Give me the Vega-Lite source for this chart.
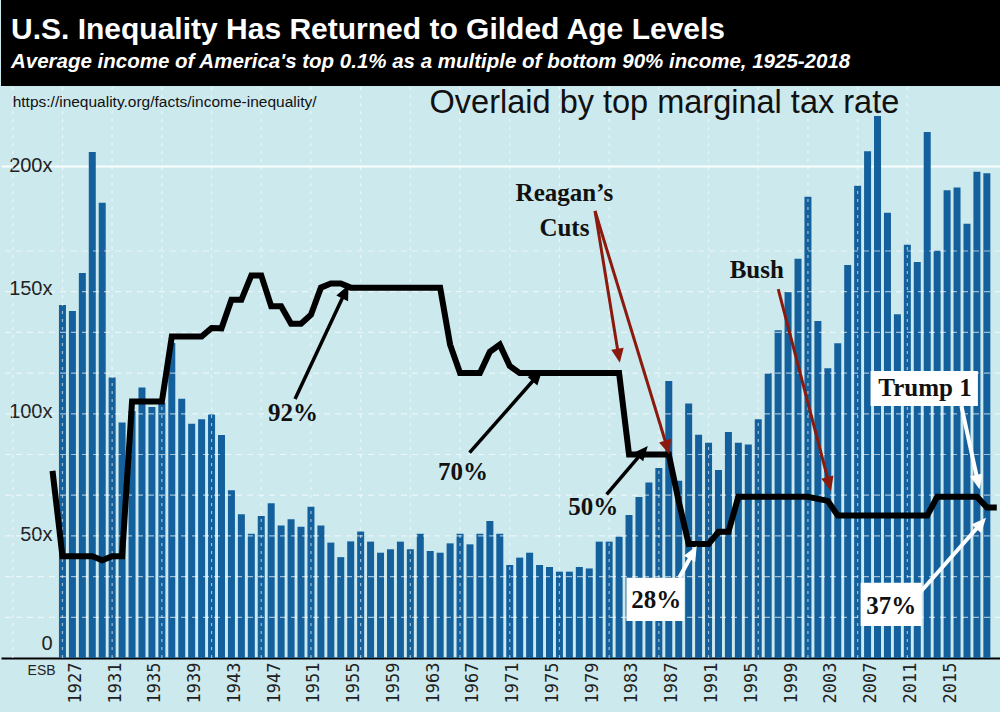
{
  "$schema": "https://vega.github.io/schema/vega-lite/v6.json",
  "padding": {"left": 0, "top": 0, "right": 0, "bottom": 10},
  "background": "#cce9ee",
  "spacing": 0,
  "config": {"view": {"stroke": null}, "concat": {"spacing": 0}},
  "datasets": {
    "income": [
      {"year": 1925, "multiple": 143.5}, {"year": 1926, "multiple": 141}, {"year": 1927, "multiple": 156.5}, {"year": 1928, "multiple": 205.7},
      {"year": 1929, "multiple": 185}, {"year": 1930, "multiple": 114}, {"year": 1931, "multiple": 95.7}, {"year": 1932, "multiple": 100.4},
      {"year": 1933, "multiple": 110}, {"year": 1934, "multiple": 102}, {"year": 1935, "multiple": 103.8}, {"year": 1936, "multiple": 128},
      {"year": 1937, "multiple": 105.4}, {"year": 1938, "multiple": 95.2}, {"year": 1939, "multiple": 97}, {"year": 1940, "multiple": 99},
      {"year": 1941, "multiple": 90.6}, {"year": 1942, "multiple": 68.2}, {"year": 1943, "multiple": 58.4}, {"year": 1944, "multiple": 50.5},
      {"year": 1945, "multiple": 57.7}, {"year": 1946, "multiple": 62.9}, {"year": 1947, "multiple": 53.9}, {"year": 1948, "multiple": 56.4},
      {"year": 1949, "multiple": 53.3}, {"year": 1950, "multiple": 61.5}, {"year": 1951, "multiple": 53.9}, {"year": 1952, "multiple": 46.9},
      {"year": 1953, "multiple": 41}, {"year": 1954, "multiple": 47.4}, {"year": 1955, "multiple": 51.4}, {"year": 1956, "multiple": 47.3},
      {"year": 1957, "multiple": 42.8}, {"year": 1958, "multiple": 44.2}, {"year": 1959, "multiple": 47.3}, {"year": 1960, "multiple": 44.2},
      {"year": 1961, "multiple": 50.5}, {"year": 1962, "multiple": 43.5}, {"year": 1963, "multiple": 42.8}, {"year": 1964, "multiple": 46.6},
      {"year": 1965, "multiple": 50.5}, {"year": 1966, "multiple": 46.2}, {"year": 1967, "multiple": 50.5}, {"year": 1968, "multiple": 55.7},
      {"year": 1969, "multiple": 50.5}, {"year": 1970, "multiple": 37.8}, {"year": 1971, "multiple": 40.8}, {"year": 1972, "multiple": 42.8},
      {"year": 1973, "multiple": 37.8}, {"year": 1974, "multiple": 37}, {"year": 1975, "multiple": 35.1}, {"year": 1976, "multiple": 35.1},
      {"year": 1977, "multiple": 37}, {"year": 1978, "multiple": 36.4}, {"year": 1979, "multiple": 47.3}, {"year": 1980, "multiple": 47.3},
      {"year": 1981, "multiple": 49.3}, {"year": 1982, "multiple": 58.1}, {"year": 1983, "multiple": 65.4}, {"year": 1984, "multiple": 71.3},
      {"year": 1985, "multiple": 77.2}, {"year": 1986, "multiple": 112.6}, {"year": 1987, "multiple": 72}, {"year": 1988, "multiple": 103.4},
      {"year": 1989, "multiple": 90.7}, {"year": 1990, "multiple": 87.5}, {"year": 1991, "multiple": 76.4}, {"year": 1992, "multiple": 91.9},
      {"year": 1993, "multiple": 87.5}, {"year": 1994, "multiple": 86.8}, {"year": 1995, "multiple": 97}, {"year": 1996, "multiple": 115.7},
      {"year": 1997, "multiple": 133.2}, {"year": 1998, "multiple": 148.8}, {"year": 1999, "multiple": 162.3}, {"year": 2000, "multiple": 187.5},
      {"year": 2001, "multiple": 137}, {"year": 2002, "multiple": 117.8}, {"year": 2003, "multiple": 127.9}, {"year": 2004, "multiple": 159.7},
      {"year": 2005, "multiple": 192}, {"year": 2006, "multiple": 206}, {"year": 2007, "multiple": 220.3}, {"year": 2008, "multiple": 181},
      {"year": 2009, "multiple": 139.7}, {"year": 2010, "multiple": 168}, {"year": 2011, "multiple": 161}, {"year": 2012, "multiple": 213.8},
      {"year": 2013, "multiple": 165.5}, {"year": 2014, "multiple": 190.1}, {"year": 2015, "multiple": 191.2}, {"year": 2016, "multiple": 176.5},
      {"year": 2017, "multiple": 197.7}, {"year": 2018, "multiple": 197}
    ],
    "tax": [
      {"year": 1924, "rate": 46}, {"year": 1925, "rate": 25}, {"year": 1926, "rate": 25}, {"year": 1927, "rate": 25}, {"year": 1928, "rate": 25},
      {"year": 1929, "rate": 24}, {"year": 1930, "rate": 25}, {"year": 1931, "rate": 25}, {"year": 1932, "rate": 63}, {"year": 1933, "rate": 63},
      {"year": 1934, "rate": 63}, {"year": 1935, "rate": 63}, {"year": 1936, "rate": 79}, {"year": 1937, "rate": 79}, {"year": 1938, "rate": 79},
      {"year": 1939, "rate": 79}, {"year": 1940, "rate": 81.1}, {"year": 1941, "rate": 81}, {"year": 1942, "rate": 88}, {"year": 1943, "rate": 88},
      {"year": 1944, "rate": 94}, {"year": 1945, "rate": 94}, {"year": 1946, "rate": 86.45}, {"year": 1947, "rate": 86.45}, {"year": 1948, "rate": 82.13},
      {"year": 1949, "rate": 82.13}, {"year": 1950, "rate": 84.36}, {"year": 1951, "rate": 91}, {"year": 1952, "rate": 92}, {"year": 1953, "rate": 92},
      {"year": 1954, "rate": 91}, {"year": 1955, "rate": 91}, {"year": 1956, "rate": 91}, {"year": 1957, "rate": 91}, {"year": 1958, "rate": 91},
      {"year": 1959, "rate": 91}, {"year": 1960, "rate": 91}, {"year": 1961, "rate": 91}, {"year": 1962, "rate": 91}, {"year": 1963, "rate": 91},
      {"year": 1964, "rate": 77}, {"year": 1965, "rate": 70}, {"year": 1966, "rate": 70}, {"year": 1967, "rate": 70}, {"year": 1968, "rate": 75.25},
      {"year": 1969, "rate": 77}, {"year": 1970, "rate": 71.75}, {"year": 1971, "rate": 70}, {"year": 1972, "rate": 70}, {"year": 1973, "rate": 70},
      {"year": 1974, "rate": 70}, {"year": 1975, "rate": 70}, {"year": 1976, "rate": 70}, {"year": 1977, "rate": 70}, {"year": 1978, "rate": 70},
      {"year": 1979, "rate": 70}, {"year": 1980, "rate": 70}, {"year": 1981, "rate": 70}, {"year": 1982, "rate": 50}, {"year": 1983, "rate": 50},
      {"year": 1984, "rate": 50}, {"year": 1985, "rate": 50}, {"year": 1986, "rate": 50}, {"year": 1987, "rate": 38.5}, {"year": 1988, "rate": 28},
      {"year": 1989, "rate": 28}, {"year": 1990, "rate": 28}, {"year": 1991, "rate": 31}, {"year": 1992, "rate": 31}, {"year": 1993, "rate": 39.6},
      {"year": 1994, "rate": 39.6}, {"year": 1995, "rate": 39.6}, {"year": 1996, "rate": 39.6}, {"year": 1997, "rate": 39.6}, {"year": 1998, "rate": 39.6},
      {"year": 1999, "rate": 39.6}, {"year": 2000, "rate": 39.6}, {"year": 2001, "rate": 39.1}, {"year": 2002, "rate": 38.6}, {"year": 2003, "rate": 35},
      {"year": 2004, "rate": 35}, {"year": 2005, "rate": 35}, {"year": 2006, "rate": 35}, {"year": 2007, "rate": 35}, {"year": 2008, "rate": 35},
      {"year": 2009, "rate": 35}, {"year": 2010, "rate": 35}, {"year": 2011, "rate": 35}, {"year": 2012, "rate": 35}, {"year": 2013, "rate": 39.6},
      {"year": 2014, "rate": 39.6}, {"year": 2015, "rate": 39.6}, {"year": 2016, "rate": 39.6}, {"year": 2017, "rate": 39.6}, {"year": 2018, "rate": 37},
      {"year": 2019, "rate": 37}
    ],
    "rateGrid": [{"r": 10}, {"r": 20}, {"r": 30}, {"r": 40}, {"r": 50}, {"r": 60}, {"r": 70}, {"r": 80}, {"r": 90}, {"r": 100}],
    "yearGrid": [{"g": 1920}, {"g": 1925}, {"g": 1930}, {"g": 1935}, {"g": 1940}, {"g": 1945}, {"g": 1950}, {"g": 1955}, {"g": 1960}, {"g": 1965},
      {"g": 1970}, {"g": 1975}, {"g": 1980}, {"g": 1985}, {"g": 1990}, {"g": 1995}, {"g": 2000}, {"g": 2005}, {"g": 2010}],
    "boxes": [
      {"x1": 1981.74, "x2": 1987.55, "y1": 32.6, "y2": 15.0},
      {"x1": 2005.3, "x2": 2011.45, "y1": 30.6, "y2": 13.0},
      {"x1": 2006.3, "x2": 2017.1, "y1": 116.7, "y2": 102.4}
    ],
    "serifLabels": [
      {"label": "92%", "year": 1948.2, "value": 99.6},
      {"label": "70%", "year": 1965.3, "value": 75.7},
      {"label": "50%", "year": 1978.41, "value": 61.5},
      {"label": "Reagan’s", "year": 1975.5, "value": 189.0},
      {"label": "Cuts", "year": 1975.5, "value": 174.9},
      {"label": "Bush", "year": 1994.85, "value": 157.7},
      {"label": "28%", "year": 1984.73, "value": 23.6},
      {"label": "37%", "year": 2008.37, "value": 21.1},
      {"label": "Trump 1", "year": 2011.78, "value": 109.9}
    ],
    "arrowsBlack": [
      {"sx": 1948.4, "sy": 105.3, "tx": 1953.78, "ty": 151.6},
      {"sx": 1965.96, "sy": 83.5, "tx": 1973.27, "ty": 116.95},
      {"sx": 1979.75, "sy": 66.5, "tx": 1983.89, "ty": 86.2}
    ],
    "arrowsWhite": [
      {"sx": 1987.05, "sy": 32.6, "tx": 1988.81, "ty": 45.5},
      {"sx": 2011.12, "sy": 25.9, "tx": 2017.92, "ty": 57.0},
      {"sx": 2015.44, "sy": 102.4, "tx": 2017.26, "ty": 68.6}
    ],
    "arrowsRed": [
      {"sx": 1978.58, "sy": 181.7, "tx": 1981.07, "ty": 120.0},
      {"sx": 1978.58, "sy": 181.7, "tx": 1986.05, "ty": 82.8},
      {"sx": 1997.01, "sy": 149.9, "tx": 2002.32, "ty": 67.9}
    ],
    "notes": [
      {"label": "https://inequality.org/facts/income-inequality/", "year": 1919.99, "value": 225.8}
    ],
    "headline": [
      {"label": "Overlaid by top marginal tax rate", "year": 1985.56, "value": 221.5}
    ],
    "esb": [
      {"label": "ESB", "year": 1922.9, "value": -5.3}
    ]
  },
  "vconcat": [
    {
      "width": 1000,
      "height": 86,
      "view": {"fill": "#000000", "stroke": null},
      "title": {
        "text": "U.S. Inequality Has Returned to Gilded Age Levels",
        "subtitle": "Average income of America's top 0.1% as a multiple of bottom 90% income, 1925-2018",
        "anchor": "start",
        "frame": "group",
        "orient": "top",
        "baseline": "top",
        "offset": -72,
        "dx": 10,
        "font": "Liberation Sans",
        "fontSize": 30,
        "fontWeight": "bold",
        "color": "#ffffff",
        "subtitleFont": "Liberation Sans",
        "subtitleFontSize": 20.5,
        "subtitleFontWeight": "bold",
        "subtitleFontStyle": "italic",
        "subtitleColor": "#ffffff",
        "subtitlePadding": 7
      },
      "data": {"values": [{"t": ""}]},
      "mark": {"type": "text"},
      "encoding": {"text": {"field": "t"}}
    },
    {
      "width": 1000,
      "height": 571,
      "layer": [
        {
          "data": {"name": "income"},
          "mark": {"type": "bar", "width": 7, "color": "#13609c"},
          "encoding": {
            "x": {
              "field": "year", "type": "quantitative", "title": null,
              "scale": {"domain": [1919.32, 2018.92], "nice": false, "zero": false},
              "axis": {
                "values": [1927, 1931, 1935, 1939, 1943, 1947, 1951, 1955, 1959, 1963, 1967, 1971, 1975, 1979, 1983, 1987, 1991, 1995, 1999, 2003, 2007, 2011, 2015],
                "format": "d", "labelAngle": -90, "labelAlign": "right", "labelBaseline": "middle",
                "labelFont": "DejaVu Sans Mono", "labelFontSize": 17, "labelColor": "#222222",
                "labelPadding": 4, "labelOffset": -7, "labelFlush": false, "labelOverlap": false,
                "ticks": false, "grid": false, "domainColor": "#000000", "domainWidth": 2
              }
            },
            "y": {
              "field": "multiple", "type": "quantitative", "title": null,
              "scale": {"domain": [0, 232.1], "nice": false},
              "axis": {
                "orient": "left", "values": [0, 50, 100, 150, 200],
                "labelExpr": "datum.value === 0 ? '0' : datum.value + 'x'",
                "offset": -51, "labelPadding": 0, "ticks": false, "domain": false,
                "labelFont": "Liberation Sans", "labelFontSize": 20, "labelColor": "#222222",
                "labelFlush": true, "labelFlushOffset": -5,
                "grid": true, "gridColor": "#ffffff", "gridWidth": 2,
                "gridOpacity": {"condition": {"test": "datum.value === 200", "value": 0.9}, "value": 0}
              }
            }
          }
        },
        {
          "layer": [
            {
              "data": {"name": "rateGrid"},
              "mark": {"type": "rule", "color": "#ffffff", "opacity": 0.6, "strokeWidth": 1.2, "strokeDash": [6, 5]},
              "encoding": {
                "y": {"field": "r", "type": "quantitative", "title": null, "scale": {"domain": [0, 140.3], "nice": false}, "axis": null}
              }
            },
            {
              "data": {"name": "yearGrid"},
              "mark": {"type": "rule", "color": "#ffffff", "opacity": 0.6, "strokeWidth": 1.2, "strokeDash": [3, 5]},
              "encoding": {
                "x": {"field": "g", "type": "quantitative", "title": null, "scale": {"domain": [1919.32, 2018.92], "nice": false, "zero": false}}
              }
            },
            {
              "data": {"name": "tax"},
              "mark": {"type": "line", "color": "#000000", "strokeWidth": 6, "clip": true},
              "encoding": {
                "x": {"field": "year", "type": "quantitative", "title": null, "scale": {"domain": [1919.32, 2018.92], "nice": false, "zero": false}},
                "y": {"field": "rate", "type": "quantitative", "title": null, "scale": {"domain": [0, 140.3], "nice": false}, "axis": null}
              }
            }
          ]
        },
        {
          "layer": [
            {
              "data": {"name": "boxes"},
              "mark": {"type": "rect", "color": "#ffffff"},
              "encoding": {
                "x": {"field": "x1", "type": "quantitative", "title": null, "scale": {"domain": [1919.32, 2018.92], "nice": false, "zero": false}},
                "x2": {"field": "x2"},
                "y": {"field": "y1", "type": "quantitative", "title": null, "scale": {"domain": [0, 232.1], "nice": false}, "axis": null},
                "y2": {"field": "y2"}
              }
            },
            {
              "data": {"name": "arrowsBlack"},
              "transform": [
                {"calculate": "(datum.tx - datum.sx) * 10.04", "as": "dxp"},
                {"calculate": "(datum.ty - datum.sy) * 2.46", "as": "dyp"},
                {"calculate": "sqrt(datum.dxp * datum.dxp + datum.dyp * datum.dyp)", "as": "len"},
                {"calculate": "atan2(datum.dxp, datum.dyp) * 180 / PI", "as": "ang"},
                {"calculate": "datum.tx - (datum.tx - datum.sx) * 10 / datum.len", "as": "ex"},
                {"calculate": "datum.ty - (datum.ty - datum.sy) * 10 / datum.len", "as": "ey"}
              ],
              "layer": [
                {
                  "mark": {"type": "rule", "color": "#000000", "strokeWidth": 3.5},
                  "encoding": {
                    "x": {"field": "sx", "type": "quantitative", "title": null, "scale": {"domain": [1919.32, 2018.92], "nice": false, "zero": false}},
                    "x2": {"field": "ex"},
                    "y": {"field": "sy", "type": "quantitative", "title": null, "scale": {"domain": [0, 232.1], "nice": false}, "axis": null},
                    "y2": {"field": "ey"}
                  }
                },
                {
                  "mark": {"type": "point", "shape": "M0,0L0.75,1.7L-0.75,1.7Z", "filled": true, "opacity": 1, "size": 300, "color": "#000000"},
                  "encoding": {
                    "x": {"field": "tx", "type": "quantitative", "title": null, "scale": {"domain": [1919.32, 2018.92], "nice": false, "zero": false}},
                    "y": {"field": "ty", "type": "quantitative", "title": null, "scale": {"domain": [0, 232.1], "nice": false}, "axis": null},
                    "angle": {"field": "ang", "type": "quantitative", "scale": null}
                  }
                }
              ]
            },
            {
              "data": {"name": "arrowsWhite"},
              "transform": [
                {"calculate": "(datum.tx - datum.sx) * 10.04", "as": "dxp"},
                {"calculate": "(datum.ty - datum.sy) * 2.46", "as": "dyp"},
                {"calculate": "sqrt(datum.dxp * datum.dxp + datum.dyp * datum.dyp)", "as": "len"},
                {"calculate": "atan2(datum.dxp, datum.dyp) * 180 / PI", "as": "ang"},
                {"calculate": "datum.tx - (datum.tx - datum.sx) * 10 / datum.len", "as": "ex"},
                {"calculate": "datum.ty - (datum.ty - datum.sy) * 10 / datum.len", "as": "ey"}
              ],
              "layer": [
                {
                  "mark": {"type": "rule", "color": "#ffffff", "strokeWidth": 4},
                  "encoding": {
                    "x": {"field": "sx", "type": "quantitative", "title": null, "scale": {"domain": [1919.32, 2018.92], "nice": false, "zero": false}},
                    "x2": {"field": "ex"},
                    "y": {"field": "sy", "type": "quantitative", "title": null, "scale": {"domain": [0, 232.1], "nice": false}, "axis": null},
                    "y2": {"field": "ey"}
                  }
                },
                {
                  "mark": {"type": "point", "shape": "M0,0L0.75,1.7L-0.75,1.7Z", "filled": true, "opacity": 1, "size": 300, "color": "#ffffff"},
                  "encoding": {
                    "x": {"field": "tx", "type": "quantitative", "title": null, "scale": {"domain": [1919.32, 2018.92], "nice": false, "zero": false}},
                    "y": {"field": "ty", "type": "quantitative", "title": null, "scale": {"domain": [0, 232.1], "nice": false}, "axis": null},
                    "angle": {"field": "ang", "type": "quantitative", "scale": null}
                  }
                }
              ]
            },
            {
              "data": {"name": "arrowsRed"},
              "transform": [
                {"calculate": "(datum.tx - datum.sx) * 10.04", "as": "dxp"},
                {"calculate": "(datum.ty - datum.sy) * 2.46", "as": "dyp"},
                {"calculate": "sqrt(datum.dxp * datum.dxp + datum.dyp * datum.dyp)", "as": "len"},
                {"calculate": "atan2(datum.dxp, datum.dyp) * 180 / PI", "as": "ang"},
                {"calculate": "datum.tx - (datum.tx - datum.sx) * 10 / datum.len", "as": "ex"},
                {"calculate": "datum.ty - (datum.ty - datum.sy) * 10 / datum.len", "as": "ey"}
              ],
              "layer": [
                {
                  "mark": {"type": "rule", "color": "#8b1a0e", "strokeWidth": 3},
                  "encoding": {
                    "x": {"field": "sx", "type": "quantitative", "title": null, "scale": {"domain": [1919.32, 2018.92], "nice": false, "zero": false}},
                    "x2": {"field": "ex"},
                    "y": {"field": "sy", "type": "quantitative", "title": null, "scale": {"domain": [0, 232.1], "nice": false}, "axis": null},
                    "y2": {"field": "ey"}
                  }
                },
                {
                  "mark": {"type": "point", "shape": "M0,0L0.75,1.7L-0.75,1.7Z", "filled": true, "opacity": 1, "size": 280, "color": "#8b1a0e"},
                  "encoding": {
                    "x": {"field": "tx", "type": "quantitative", "title": null, "scale": {"domain": [1919.32, 2018.92], "nice": false, "zero": false}},
                    "y": {"field": "ty", "type": "quantitative", "title": null, "scale": {"domain": [0, 232.1], "nice": false}, "axis": null},
                    "angle": {"field": "ang", "type": "quantitative", "scale": null}
                  }
                }
              ]
            },
            {
              "data": {"name": "serifLabels"},
              "mark": {"type": "text", "font": "Liberation Serif", "fontSize": 25, "fontWeight": "bold", "color": "#111111", "align": "center", "baseline": "middle"},
              "encoding": {
                "x": {"field": "year", "type": "quantitative", "title": null, "scale": {"domain": [1919.32, 2018.92], "nice": false, "zero": false}},
                "y": {"field": "value", "type": "quantitative", "title": null, "scale": {"domain": [0, 232.1], "nice": false}, "axis": null},
                "text": {"field": "label"}
              }
            },
            {
              "data": {"name": "notes"},
              "mark": {"type": "text", "font": "Liberation Sans", "fontSize": 15.5, "color": "#111111", "align": "left", "baseline": "middle"},
              "encoding": {
                "x": {"field": "year", "type": "quantitative", "title": null, "scale": {"domain": [1919.32, 2018.92], "nice": false, "zero": false}},
                "y": {"field": "value", "type": "quantitative", "title": null, "scale": {"domain": [0, 232.1], "nice": false}, "axis": null},
                "text": {"field": "label"}
              }
            },
            {
              "data": {"name": "headline"},
              "mark": {"type": "text", "font": "Liberation Sans", "fontSize": 32.5, "color": "#111111", "align": "center", "baseline": "alphabetic"},
              "encoding": {
                "x": {"field": "year", "type": "quantitative", "title": null, "scale": {"domain": [1919.32, 2018.92], "nice": false, "zero": false}},
                "y": {"field": "value", "type": "quantitative", "title": null, "scale": {"domain": [0, 232.1], "nice": false}, "axis": null},
                "text": {"field": "label"}
              }
            },
            {
              "data": {"name": "esb"},
              "mark": {"type": "text", "font": "Liberation Sans", "fontSize": 14, "color": "#222222", "align": "center", "baseline": "middle"},
              "encoding": {
                "x": {"field": "year", "type": "quantitative", "title": null, "scale": {"domain": [1919.32, 2018.92], "nice": false, "zero": false}},
                "y": {"field": "value", "type": "quantitative", "title": null, "scale": {"domain": [0, 232.1], "nice": false}, "axis": null},
                "text": {"field": "label"}
              }
            }
          ]
        }
      ],
      "resolve": {"scale": {"y": "independent"}}
    }
  ]
}
